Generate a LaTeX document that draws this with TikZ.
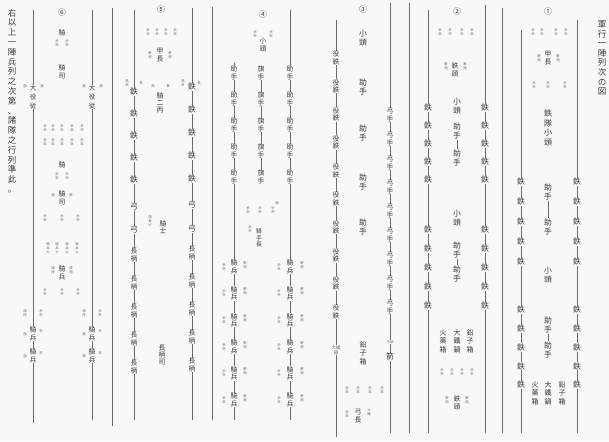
\documentclass[tikz,border=0pt]{standalone}
\usepackage{fontspec}
\newfontfamily\cjk{Noto Sans CJK JP}
\definecolor{bg}{HTML}{F8F8F6}
\definecolor{ink}{HTML}{3A3A3A}
\definecolor{rule}{HTML}{6A6A6A}
\makeatletter
\def\vt#1{\vt@a#1\relax}
\def\vt@a#1#2{#1\ifx\relax#2\else\\\expandafter\vt@a\expandafter#2\fi}
\makeatother
\tikzset{
  ln/.style={draw=rule, line width=0.55pt},
  big/.style={inner sep=0.5pt, fill=bg, align=center, text=ink, font=\cjk\fontsize{7.8}{8.6}\selectfont},
  mid/.style={inner sep=0.4pt, fill=bg, align=center, text=ink, font=\cjk\fontsize{6.8}{7.4}\selectfont},
  tiny/.style={inner sep=0.2pt, fill=bg, align=center, text=ink!75, font=\cjk\fontsize{3.4}{3.9}\selectfont},
  boxt/.style={inner sep=0.4pt, align=center, text=ink, font=\cjk\fontsize{7}{8.6}\selectfont},
}
\begin{document}
\begin{tikzpicture}[x=1pt,y=-1pt]
\fill[bg] (0,0) rectangle (609,441);
\useasboundingbox (0,0) rectangle (609,441);
% ---- vertical rules ----
\foreach \n/\x/\a/\b in {L1/33/10/423, L2/92/10/420, L3/112/8/426, L4/134/10/420,
  L5/192/8/420, L6/212/7/420, L7/234/63/420, L8/290/10/420, L9/336/20/437,
  L10/390/3/433, L11/409/3/433, L12/428/10/433, L13/485/5/433, L14/502/8/433,
  L15/521/30/433, L16/577/20/433}{
  \coordinate (\n t) at (\x,\a);
  \coordinate (\n b) at (\x,\b);
  \draw[ln] (\n t) -- (\n b);
}
% ---- title and note ----
\node[inner sep=0, align=center, text=ink, font=\cjk\fontsize{8.5}{9.6}\selectfont] (title) at (602,58) {\vt{軍行一陣列次の図}};
\node[inner sep=0, align=center, text=ink, font=\cjk\fontsize{8.5}{9.8}\selectfont] (note) at (12,101) {\vt{右以上一陣兵列之次第、諸隊之行列準此。}};
% ================= column 1 =================
\node[big] (n1) at (548,12) {①};
\foreach \x [count=\k] in {533,542,556,566} \node[tiny] (n1a\k) at (\x,32) {\vt{歩卒}};
\node[mid] (n1b) at (548,58) {\vt{甲長}};
\node[tiny] (n1c) at (539,58) {\vt{鉄炮}};
\node[tiny] (n1d) at (558,58) {\vt{鉄炮}};
\foreach \x [count=\k] in {534,548,565} \node[tiny] (n1e\k) at (\x,85) {\vt{歩卒}};
\node[big, font=\cjk\fontsize{8}{9.6}\selectfont] (n1f) at (548,128) {\vt{鉄隊小頭}};
\node[big] (n1g) at (548,192) {\vt{助手}};
\node[big] (n1h) at (548,227) {\vt{助手}};
\draw[ln] (n1g) -- (n1h);
\node[big] (n1i) at (548,275) {\vt{小頭}};
\node[big] (n1j) at (548,325) {\vt{助手}};
\node[big] (n1k) at (548,350) {\vt{助手}};
\draw[ln] (n1j) -- (n1k);
\node[boxt] (n1l) at (562,393) {\vt{鉛子箱}};
\node[boxt] (n1m) at (548,393) {\vt{大鐵鍋}};
\node[boxt] (n1n) at (535,393) {\vt{火薬箱}};
\foreach \x in {521,577}{
  \foreach \i in {0,...,4}{
    \node[big] (g\x a\i) at (\x,{182+20*\i}) {鉄};
    \node[big] (g\x b\i) at (\x,{310+18.75*\i}) {鉄};
  }
}
% ================= column 2 =================
\node[big] (n2) at (457,12) {②};
\foreach \x [count=\k] in {440,450,462,472} \node[tiny] (n2a\k) at (\x,32) {\vt{歩卒}};
\node[mid] (n2b) at (455,70) {\vt{鉄頭}};
\node[tiny] (n2c) at (446,66) {\vt{鉄炮}};
\node[tiny] (n2d) at (465,66) {\vt{鉄炮}};
\node[big] (n2e) at (457,106) {\vt{小頭}};
\node[big] (n2f) at (457,131) {\vt{助手}};
\node[big] (n2g) at (457,158) {\vt{助手}};
\draw[ln] (n2f) -- (n2g);
\node[big] (n2h) at (457,218) {\vt{小頭}};
\node[big] (n2i) at (457,250) {\vt{助手}};
\node[big] (n2j) at (457,274) {\vt{助手}};
\draw[ln] (n2i) -- (n2j);
\node[boxt] (n2k) at (470,341) {\vt{鉛子箱}};
\node[boxt] (n2l) at (457,341) {\vt{大鐵鍋}};
\node[boxt] (n2m) at (443,341) {\vt{火薬箱}};
\foreach \x [count=\k] in {442,452,462,472} \node[tiny] (n2n\k) at (\x,372) {\vt{歩卒}};
\node[mid] (n2o) at (457,403) {\vt{鉄頭}};
\node[tiny] (n2p) at (447,400) {\vt{鉄炮}};
\node[tiny] (n2q) at (467,400) {\vt{鉄炮}};
\foreach \x in {428,485}{
  \foreach \i in {0,...,4}{
    \node[big] (h\x a\i) at (\x,{108+18*\i}) {鉄};
    \node[big] (h\x b\i) at (\x,{230+19*\i}) {鉄};
  }
}
% bows on line 390
\foreach \i in {0,...,8} \node[mid] (bw\i) at (390,{115+24*\i}) {\vt{弓手}};
\node[tiny] (bwa) at (390,342) {弓頭};
\node[big] (bwb) at (390,357) {箭};
% ================= column 3 =================
\node[big] (n3) at (363,10) {③};
\node[big] (n3a) at (363,38) {\vt{小頭}};
\foreach \y [count=\k] in {87,133,182,227} \node[big] (n3b\k) at (363,\y) {\vt{助手}};
\node[boxt] (n3c) at (363,353) {\vt{鉛子箱}};
\foreach \x [count=\k] in {347,358,370,382} \node[tiny] (n3d\k) at (\x,390) {\vt{歩卒}};
\node[mid] (n3e) at (358,416) {\vt{弓長}};
\node[tiny] (n3f) at (347,414) {\vt{歩卒}};
\node[tiny] (n3g) at (369,412) {\vt{大鐵}};
\foreach \i in {0,...,9} \node[mid] (yk\i) at (336,{58+28.2*\i}) {\vt{役鉄}};
\node[tiny, font=\cjk\fontsize{4.4}{5}\selectfont] (ykb) at (336,350) {大鐵\\箱};
% ================= column 4 =================
\node[big] (n4) at (263,15) {④};
\node[mid] (n4a) at (263,45) {\vt{小頭}};
\node[tiny] (n4b) at (255,34) {\vt{歩卒}};
\node[tiny] (n4c) at (271,34) {\vt{歩卒}};
\foreach \i in {0,...,4} \node[mid] (q\i) at (261,{73+26*\i}) {\vt{旗手}};
\foreach \i [evaluate=\i as \j using int(\i+1)] in {0,...,3} \draw[ln] (q\i) -- (q\j);
\foreach \x [count=\k] in {248,260,273} \node[tiny] (n4d\k) at (\x,210) {\vt{歩卒}};
\node[mid, font=\cjk\fontsize{5.8}{6.4}\selectfont] (n4e) at (259,238) {\vt{騎手長}};
\node[tiny] (n4f) at (250,229) {\vt{歩卒}};
\foreach \x/\l/\r in {234/224/245, 290/279/302}{
  \foreach \i in {0,...,4} \node[mid] (z\x a\i) at (\x,{73+26*\i}) {\vt{助手}};
  \foreach \i in {0,...,5}{
    \node[mid] (z\x b\i) at (\x,{267+26.6*\i}) {\vt{騎兵}};
    \node[tiny] (z\x l\i) at (\l,{267+26.6*\i}) {\vt{歩卒}};
    \node[tiny] (z\x r\i) at (\r,{265+26.6*\i}) {\vt{鉄炮}};
  }
}
\node[tiny] (n4g) at (277,203) {\vt{旗}};
% ================= column 5 =================
\node[big] (n5) at (161,10) {⑤};
\foreach \x [count=\k] in {148,157,166,175} \node[tiny] (n5a\k) at (\x,32) {\vt{歩卒}};
\node[mid] (n5b) at (160,55) {\vt{甲長}};
\node[tiny] (n5c) at (150,55) {\vt{鉄炮}};
\node[tiny] (n5d) at (170,55) {\vt{鉄炮}};
\node[tiny] (n5e) at (153,86) {馬};
\node[tiny] (n5f) at (168,86) {長};
\node[mid] (n5g) at (160,103) {\vt{騎二丙}};
\node[mid] (n5h) at (163,227) {\vt{騎士}};
\node[tiny] (n5i) at (150,221) {\vt{旗奉行}};
\node[mid] (n5j) at (162,355) {\vt{長柄司}};
\foreach \x/\s/\d/\u/\v/\w/\l/\r in {192/87/23/205/229/253/183/199, 134/92/22/207/230/255/127/141}{
  \node[tiny] (p\x l) at (\l,83) {\vt{馬卒}};
  \node[tiny] (p\x r) at (\r,83) {\vt{長}};
  \foreach \i in {0,...,4} \node[big] (p\x a\i) at (\x,{\s+\d*\i}) {鉄};
  \node[big] (p\x u) at (\x,\u) {弓};
  \node[big] (p\x v) at (\x,\v) {弓};
  \foreach \i in {0,...,4} \node[mid] (p\x b\i) at (\x,{\w+28*\i}) {\vt{長柄}};
}
% ================= column 6 =================
\node[big] (n6) at (62,13) {⑥};
\node[mid] (n6a) at (62,33) {騎};
\node[tiny] (n6b) at (57,43) {\vt{歩卒}};
\node[tiny] (n6c) at (67,43) {\vt{歩卒}};
\node[mid] (n6d) at (62,72) {\vt{騎司}};
\foreach \x [count=\k] in {45,53,62,72,82}{
  \node[tiny] (n6e\k) at (\x,128) {\vt{歩卒}};
  \node[tiny] (n6f\k) at (\x,142) {\vt{歩卒}};
}
\node[mid] (n6g) at (62,165) {騎};
\node[tiny] (n6h) at (57,176) {\vt{歩卒}};
\node[tiny] (n6i) at (67,176) {\vt{歩卒}};
\node[mid] (n6j) at (62,198) {\vt{騎司}};
\node[tiny] (n6k) at (53,195) {\vt{旗}};
\node[tiny] (n6l) at (71,195) {\vt{鉄}};
\foreach \x [count=\k] in {45,62,78} \node[tiny] (n6m\k) at (\x,218) {\vt{歩卒}};
\foreach \x [count=\k] in {48,57,67,77} \node[tiny] (n6n\k) at (\x,248) {\vt{騎兵士}};
\node[mid] (n6o) at (62,273) {\vt{騎兵}};
\node[tiny] (n6p) at (53,270) {\vt{旗持}};
\node[tiny] (n6q) at (71,270) {\vt{鉄炮}};
\foreach \x [count=\k] in {45,62,78} \node[tiny] (n6r\k) at (\x,292) {\vt{歩卒}};
\foreach \x in {33,92}{
  \node[mid, font=\cjk\fontsize{6.5}{9}\selectfont] (w\x a) at (\x,97) {\vt{大役従}};
  \node[tiny] (w\x l) at ({\x-8},86) {旗};
  \node[tiny] (w\x r) at ({\x+9},86) {旗};
  \node[tiny] (w\x c) at ({\x-8},313) {\vt{旗持}};
  \node[tiny] (w\x d) at ({\x+8},313) {\vt{歩卒}};
  \node[mid] (w\x e) at (\x,334) {\vt{騎兵}};
  \node[mid] (w\x f) at (\x,356) {\vt{騎兵}};
  \node[tiny] (w\x g) at ({\x-8},334) {旗};
  \node[tiny] (w\x h) at ({\x+8},331) {卒};
  \node[tiny] (w\x i) at ({\x-8},356) {旗};
  \node[tiny] (w\x j) at ({\x+8},353) {卒};
}
\end{tikzpicture}
\end{document}
